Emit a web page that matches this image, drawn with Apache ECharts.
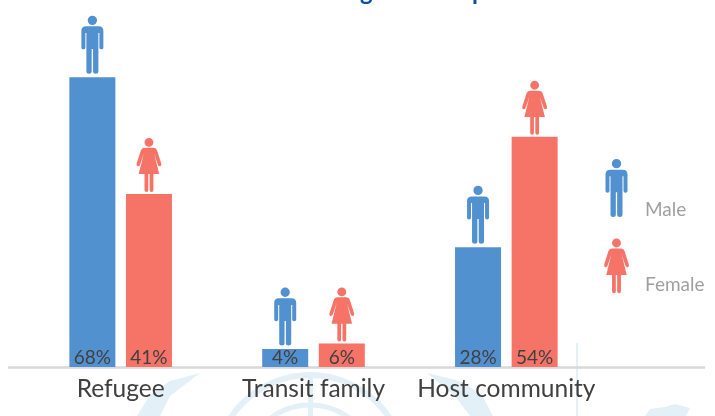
<!DOCTYPE html>
<html>
<head>
<meta charset="utf-8">
<style>
  html, body { margin: 0; padding: 0; background: #fff; }
  #chart { width: 715px; height: 416px; }
</style>
<script src="https://cdn.jsdelivr.net/npm/echarts@6/dist/echarts.min.js"></script>
</head>
<body>
<div id="chart"></div>
<script>
const categories = ['Refugee', 'Transit family', 'Host community'];
// heights, the printed labels are these rounded
const maleValues = [68, 4.2, 28.1];
const femaleValues = [40.6, 5.5, 54];

const manPath = 'path://M33 0a14 14 0 1 0 0 28a14 14 0 1 0 0-28zM14 32H52Q66 32 66 46V96Q66 101 60 101Q54 101 54 96V52H51V168Q51 174 43 174Q35 174 35 168V100H31V168Q31 174 23 174Q15 174 15 168V52H12V96Q12 101 6 101Q0 101 0 96V46Q0 32 14 32Z';
const womanPath = 'path://M37 0a13 13 0 1 0 0 26a13 13 0 1 0 0-26zM24 29H50Q58 29 61 38L73 76Q75 82 70 84Q65 85 63 79L52 46L67 107H50V154Q50 160 45 160Q39 160 39 154V107H35V154Q35 160 30 160Q24 160 24 154V107H7L22 46L11 79Q9 85 4 84Q-1 82 1 76L13 38Q16 29 24 29Z';

const maleColor = '#5291D0';
const femaleColor = '#F57367';
const pale = '#E4F0F7';

const chart = echarts.init(document.getElementById('chart'));

// bars plus a person standing on each one
function barSeries(name, values, color) {
  return {
    name: name,
    type: 'bar',
    data: values,
    barWidth: 46,
    barGap: '23%',
    itemStyle: { color: color },
    label: {
      show: true,
      position: 'insideBottom',
      distance: 0,
      formatter: (p) => Math.round(p.value) + '%',
      color: '#404040',
      fontFamily: 'Lato',
      fontSize: 19,
    },
  };
}

function peopleSeries(name, values, color, path, size, offset) {
  return {
    name: name,
    type: 'pictorialBar',
    data: values,
    barWidth: 46,
    barGap: '23%',
    symbol: path,
    symbolSize: size,
    symbolPosition: 'end',
    symbolOffset: [0, offset],
    itemStyle: { color: color },
    z: 5,
  };
}

const legendText = { color: '#A0A0A0', fontFamily: 'Lato', fontSize: 19 };

const option = {
  animation: false,
  grid: { left: 24.25, width: 578.5, top: 9, height: 358 },
  legend: {
    orient: 'vertical',
    left: 599,
    top: 154,
    itemWidth: 25,
    itemHeight: 58,
    itemGap: 19,
    selectedMode: false,
    formatter: (name) => (name === 'Male' ? '{m|' + name + '}' : '{f|' + name + '}'),
    textStyle: {
      rich: {
        m: { ...legendText, padding: [44, 0, 0, 11] },
        f: { ...legendText, padding: [38, 0, 0, 11] },
      },
    },
    data: [
      { name: 'Male', icon: manPath },
      { name: 'Female', icon: womanPath },
    ],
  },
  xAxis: {
    type: 'category',
    data: categories,
    axisLine: { show: false },
    axisTick: { show: false },
    axisLabel: {
      interval: 0,
      color: '#404040',
      fontFamily: 'Lato',
      fontSize: 24.5,
      margin: 10,
    },
  },
  yAxis: { type: 'value', min: 0, max: 84, show: false },
  series: [
    barSeries('Male', maleValues, maleColor),
    barSeries('Female', femaleValues, femaleColor),
    peopleSeries('Male', maleValues, maleColor, manPath, [22, 58], -61.5),
    peopleSeries('Female', femaleValues, femaleColor, womanPath, [25, 54], -56),
  ],
  graphic: [
    // faint emblem behind the labels
    { type: 'circle', z: -1, shape: { cx: 310, cy: 470, r: 95 }, style: { fill: 'none', stroke: pale, lineWidth: 6 } },
    { type: 'circle', z: -1, shape: { cx: 310, cy: 470, r: 65 }, style: { fill: 'none', stroke: pale, lineWidth: 5 } },
    { type: 'rect', z: -1, shape: { x: 308, y: 372, width: 5, height: 44 }, style: { fill: pale } },
    { type: 'polygon', z: -1, shape: { points: [[200, 373], [170, 381], [150, 395], [137, 416], [160, 416], [170, 396]] }, style: { fill: pale } },
    { type: 'polygon', z: -1, shape: { points: [[427, 373], [460, 381], [482, 395], [493, 416], [470, 416], [455, 396]] }, style: { fill: pale } },
    { type: 'rect', z: -1, shape: { x: 576, y: 343, width: 2, height: 73 }, style: { fill: pale } },
    { type: 'polygon', z: -1, shape: { points: [[645, 416], [650, 409], [665, 407], [675, 404], [690, 408], [686, 416]] }, style: { fill: pale } },
    // baseline runs past the plot on both sides
    { type: 'line', z: 0, shape: { x1: 8, y1: 367.5, x2: 705, y2: 367.5 }, style: { stroke: '#D9D9D9', lineWidth: 2.5 } },
    // bottom of the cut-off heading
    { type: 'text', x: 360, y: -20, style: { text: 'g', fill: '#0B4EA2', font: 'bold 24px Lato' } },
    { type: 'text', x: 472, y: -20, style: { text: 'p', fill: '#0B4EA2', font: 'bold 24px Lato' } },
  ],
};

chart.setOption(option);
</script>
</body>
</html>
